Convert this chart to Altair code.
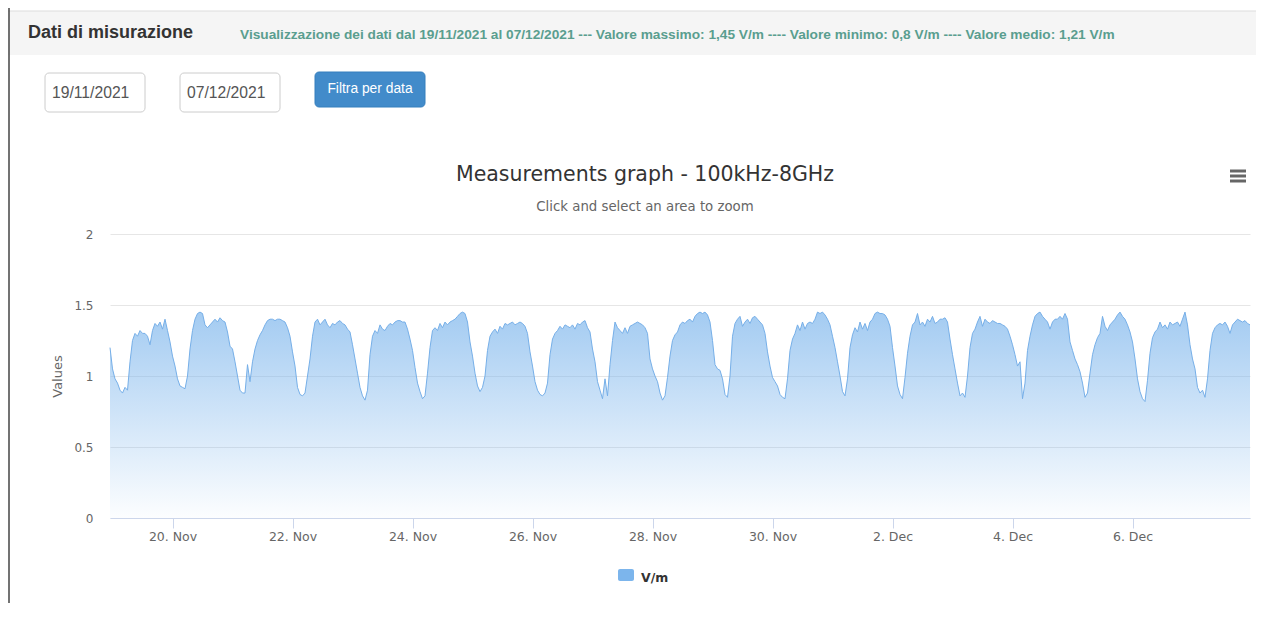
import altair as alt
import pandas as pd

# Hourly readings (UTC), one list per local day, starting 18 Nov 2021 23:00 UTC
d00 = [1.20,1.05,0.98,0.95,0.90,0.88,0.92,0.90,1.10,1.25,1.30,1.28,1.32,1.30,1.30,1.28,1.22,1.32,1.37,1.35,1.38,1.33,1.40,1.32]
d01 = [1.24,1.14,1.07,0.98,0.93,0.92,0.91,1.00,1.19,1.32,1.40,1.44,1.45,1.44,1.36,1.34,1.36,1.38,1.40,1.38,1.41,1.39,1.38,1.31]
d02 = [1.21,1.19,1.10,1.00,0.90,0.88,0.88,1.08,0.96,1.10,1.19,1.25,1.29,1.32,1.36,1.39,1.40,1.40,1.39,1.40,1.40,1.39,1.38,1.34]
d03 = [1.28,1.17,1.07,0.92,0.87,0.86,0.88,1.00,1.12,1.28,1.38,1.40,1.36,1.38,1.40,1.36,1.34,1.37,1.36,1.38,1.39,1.37,1.36,1.33]
d04 = [1.31,1.22,1.12,1.02,0.92,0.86,0.83,0.90,1.15,1.28,1.32,1.30,1.36,1.33,1.32,1.35,1.37,1.36,1.38,1.39,1.39,1.38,1.38,1.33]
d05 = [1.26,1.18,1.06,0.95,0.89,0.84,0.86,1.02,1.20,1.32,1.34,1.32,1.37,1.34,1.38,1.36,1.38,1.39,1.40,1.42,1.44,1.45,1.44,1.38]
d06 = [1.24,1.14,1.02,0.93,0.89,0.92,1.00,1.18,1.28,1.31,1.33,1.30,1.35,1.33,1.37,1.36,1.37,1.38,1.36,1.37,1.38,1.37,1.35,1.30]
d07 = [1.17,1.07,0.96,0.90,0.87,0.86,0.88,0.95,1.15,1.26,1.30,1.32,1.35,1.33,1.36,1.35,1.34,1.36,1.33,1.37,1.36,1.38,1.39,1.34]
d08 = [1.31,1.19,1.10,0.96,0.90,0.84,0.98,0.86,1.08,1.25,1.38,1.34,1.32,1.30,1.34,1.30,1.35,1.36,1.37,1.38,1.37,1.36,1.34,1.30]
d09 = [1.12,1.05,1.00,0.96,0.88,0.83,0.86,0.99,1.14,1.25,1.29,1.31,1.36,1.38,1.37,1.39,1.40,1.38,1.42,1.44,1.45,1.44,1.45,1.43]
d10 = [1.38,1.25,1.08,1.05,1.04,0.98,0.87,0.85,1.00,1.28,1.37,1.40,1.42,1.35,1.38,1.40,1.37,1.41,1.42,1.40,1.38,1.36,1.30,1.17]
d11 = [1.07,0.99,0.96,0.93,0.87,0.85,0.84,0.98,1.18,1.26,1.30,1.36,1.32,1.38,1.33,1.37,1.38,1.37,1.40,1.45,1.44,1.45,1.43,1.40]
d12 = [1.36,1.28,1.20,1.10,1.00,0.89,0.86,0.98,1.20,1.29,1.34,1.31,1.38,1.33,1.37,1.32,1.38,1.40,1.44,1.45,1.44,1.44,1.43,1.40]
d13 = [1.35,1.20,1.07,0.93,0.87,0.84,0.99,1.16,1.28,1.36,1.38,1.44,1.36,1.38,1.35,1.40,1.38,1.42,1.37,1.38,1.40,1.40,1.41,1.38]
d14 = [1.26,1.15,1.05,0.95,0.86,0.88,0.85,1.00,1.20,1.30,1.33,1.38,1.42,1.35,1.40,1.38,1.37,1.39,1.38,1.37,1.37,1.36,1.35,1.33]
d15 = [1.28,1.22,1.15,1.07,1.10,0.84,0.95,1.18,1.28,1.36,1.42,1.44,1.45,1.42,1.40,1.38,1.33,1.38,1.40,1.40,1.42,1.40,1.44,1.40]
d16 = [1.24,1.18,1.12,1.08,1.03,0.95,0.85,0.88,1.02,1.15,1.22,1.27,1.30,1.42,1.35,1.32,1.36,1.38,1.40,1.43,1.45,1.42,1.40,1.36]
d17 = [1.31,1.24,1.12,0.98,0.89,0.84,0.82,0.97,1.16,1.27,1.31,1.33,1.38,1.34,1.36,1.33,1.38,1.36,1.37,1.38,1.35,1.40,1.45,1.36]
d18 = [1.22,1.12,1.05,0.92,0.88,0.90,0.85,0.98,1.18,1.30,1.34,1.36,1.37,1.36,1.38,1.35,1.30,1.36,1.38,1.40,1.39,1.38,1.39,1.37]
last_value = [1.36]

days = [d00, d01, d02, d03, d04, d05, d06, d07, d08, d09, d10, d11, d12, d13, d14, d15, d16, d17, d18]
values = [v for d in days for v in d] + last_value

start = "2021-11-18 23:00"
end = "2021-12-07 23:00"
times = pd.date_range(start, periods=len(values), freq="h")
df = pd.DataFrame({"t": times.strftime("%Y-%m-%dT%H:%M:%SZ"), "v": values})

tick_dates = ["2021-11-20", "2021-11-22", "2021-11-24", "2021-11-26", "2021-11-28",
              "2021-11-30", "2021-12-02", "2021-12-04", "2021-12-06"]
y_ticks = [0, 0.5, 1, 1.5, 2]

title_text = "Measurements graph - 100kHz-8GHz"
subtitle_text = "Click and select an area to zoom"
header_text = "Dati di misurazione"
info_text = ("Visualizzazione dei dati dal 19/11/2021 al 07/12/2021 --- Valore massimo: 1,45 V/m "
             "---- Valore minimo: 0,8 V/m ---- Valore medio: 1,21 V/m")
date_from = "19/11/2021"
date_to = "07/12/2021"
button_text = "Filtra per data"
legend_text = "V/m"


def ms(s):
    return int(pd.Timestamp(s, tz="UTC").value // 10**6)


CHART_FONT = "DejaVu Sans"
PAGE_FONT = "Liberation Sans"

area = alt.Chart(df).mark_area(
    line=alt.OverlayMarkDef(color="#76afe8", strokeWidth=1),
    color=alt.LinearGradient(
        gradient="linear",
        stops=[alt.GradientStop(color="rgba(124,181,236,0.03)", offset=0),
               alt.GradientStop(color="rgba(124,181,236,1)", offset=1)],
        x1=1, x2=1, y1=1, y2=0),
    interpolate="linear",
).encode(
    x=alt.X("t:T", title=None,
            scale=alt.Scale(type="utc", domain=[ms(start), ms(end)]),
            axis=alt.Axis(values=[ms(d) for d in tick_dates], format="%-d. %b",
                          labelFont=CHART_FONT, labelFontSize=12.5, labelColor="#666666",
                          grid=False, domainColor="#ccd6eb", tickColor="#ccd6eb",
                          tickSize=10, labelPadding=2, labelOverlap=False, labelFlush=False)),
    y=alt.Y("v:Q", title="Values",
            scale=alt.Scale(domain=[0, 2], nice=False),
            axis=alt.Axis(values=y_ticks, format="~g", grid=True, gridColor="#e6e6e6",
                          domain=False, ticks=False, labelPadding=17,
                          labelFont=CHART_FONT, labelFontSize=12, labelColor="#666666",
                          titleFont=CHART_FONT, titleFontSize=13, titleColor="#666666",
                          titleFontWeight="normal", titleX=-53, titleY=142,
                          titleAngle=270, titleAlign="center", titleBaseline="middle")),
)

one = pd.DataFrame({"k": [0]})


def rect(x, x2, y, y2, **kw):
    return alt.Chart(one).mark_rect(**kw).encode(
        x=alt.value(x), x2=alt.value(x2), y=alt.value(y), y2=alt.value(y2))


def text(t, x, y, **kw):
    return alt.Chart(one).mark_text(text=t, **kw).encode(x=alt.value(x), y=alt.value(y))


def hline(x, x2, y, **kw):
    return alt.Chart(one).mark_rule(**kw).encode(x=alt.value(x), x2=alt.value(x2), y=alt.value(y))


deco = [
    rect(-102, 1146, -223, -179, color="#f5f5f5"),
    hline(-102, 1146, -223, color="#dddddd", strokeWidth=1),
    alt.Chart(one).mark_rule(color="#444444", strokeWidth=1.5).encode(
        x=alt.value(-101), y=alt.value(-226), y2=alt.value(380)),
    text(header_text, -82, -201, align="left", baseline="middle", font=PAGE_FONT,
         fontSize=18, fontWeight="bold", color="#333333"),
    text(info_text, 130, -199, align="left", baseline="middle", font=PAGE_FONT,
         fontSize=13.7, fontWeight="bold", color="#5a9e8f"),
    rect(-65, 35, -161, -122, fill="#ffffff", stroke="#cccccc", strokeWidth=1, cornerRadius=4),
    rect(70, 170, -161, -122, fill="#ffffff", stroke="#cccccc", strokeWidth=1, cornerRadius=4),
    text(date_from, -58, -141, align="left", baseline="middle", font=PAGE_FONT,
         fontSize=15.7, color="#555555"),
    text(date_to, 77, -141, align="left", baseline="middle", font=PAGE_FONT,
         fontSize=15.7, color="#555555"),
    rect(205, 315, -162, -127, fill="#428bca", stroke="#357ebd", strokeWidth=1, cornerRadius=4),
    text(button_text, 260, -145, align="center", baseline="middle", font=PAGE_FONT,
         fontSize=13.8, color="#ffffff"),
    text(title_text, 535, -53, align="center", baseline="alphabetic", font=CHART_FONT,
         fontSize=20.5, color="#333333"),
    text(subtitle_text, 535, -23, align="center", baseline="alphabetic", font=CHART_FONT,
         fontSize=13.3, color="#666666"),
    hline(1120, 1136, -63, color="#666666", strokeWidth=3),
    hline(1120, 1136, -58, color="#666666", strokeWidth=3),
    hline(1120, 1136, -53, color="#666666", strokeWidth=3),
    rect(508, 524, 335, 347, color="#7cb5ec", cornerRadius=2),
    text(legend_text, 531, 348, align="left", baseline="alphabetic", font=CHART_FONT,
         fontSize=12.5, fontWeight="bold", color="#333333"),
]

chart = alt.layer(area, *deco).properties(
    width=1140, height=284,
    autosize=alt.AutoSizeParams(type="none"),
    padding={"left": 102, "top": 226, "right": 6, "bottom": 85},
    background="#ffffff",
).configure_view(stroke=None)

chart.save("out.html", embed_options={"renderer": "svg", "actions": False})
